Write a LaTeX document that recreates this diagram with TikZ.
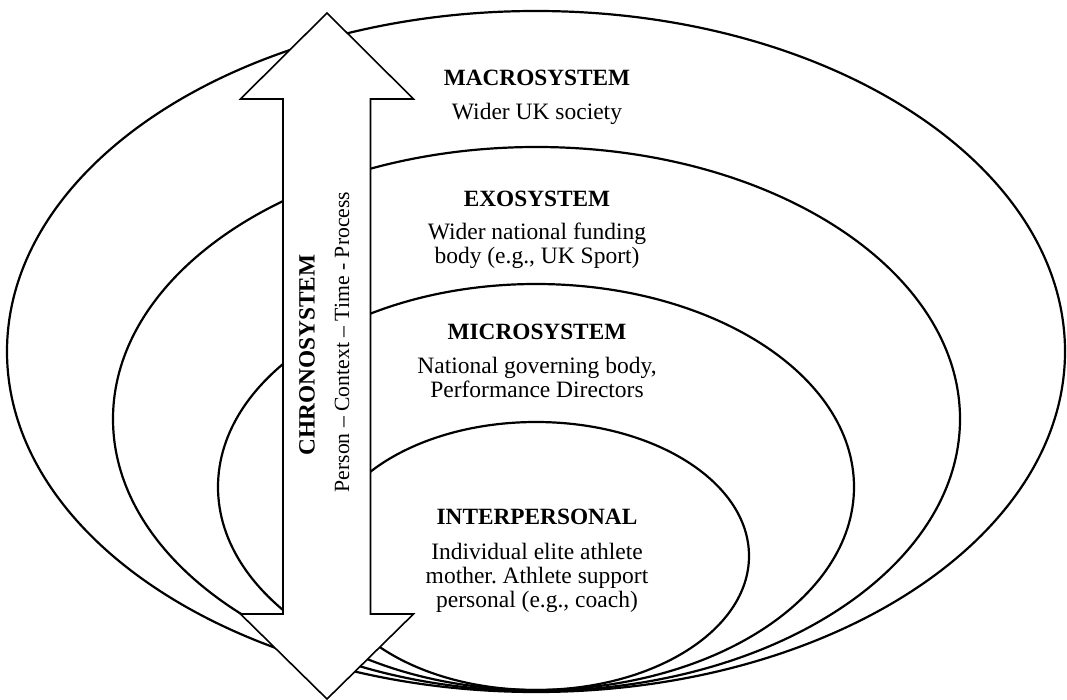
\documentclass[tikz,border=0pt]{standalone}
\usepackage{fontspec}
\setmainfont{Liberation Serif}
\usetikzlibrary{shapes.geometric}
\frenchspacing
\begin{document}
\begin{tikzpicture}[x=1pt,y=-1pt,
  ring/.style={ellipse,draw,line width=2.2pt,inner sep=0pt},
  title/.style={font=\fontsize{23.3}{24}\selectfont\bfseries,anchor=base,inner sep=0pt},
  body/.style={font=\fontsize{23.5}{24}\selectfont,align=center,anchor=base,inner sep=0pt},
  chrono/.style={draw,line width=1.6pt,fill=white,line join=miter}]
\useasboundingbox (0,0) rectangle (1067,700);
% nested ellipses
\node[ring,minimum width=1058pt,minimum height=681pt] (macro) at (536,351.5) {};
\node[ring,minimum width=847pt,minimum height=544pt] (exo) at (536.5,419) {};
\node[ring,minimum width=636pt,minimum height=406pt] (micro) at (536,487) {};
\node[ring,minimum width=426pt,minimum height=268pt] (inter) at (536,556) {};
% double arrow
\draw[chrono] (327,13) -- (413.5,99) -- (370.5,99) -- (370.5,614) -- (413.5,614)
  -- (327,699) -- (240.5,614) -- (283,614) -- (283,99) -- (240.5,99) -- cycle;
\node[font=\fontsize{23.3}{24}\selectfont\bfseries,rotate=90,inner sep=0pt] (chronot) at (307,355) {CHRONOSYSTEM};
\node[font=\fontsize{21.7}{24}\selectfont,rotate=90,inner sep=0pt] (chronob) at (342,342) {Person -- Context -- Time - Process};
% texts
\node[title] (macrot) at (537,85.5) {MACROSYSTEM};
\node[body] (macrob) at (537,120) {Wider UK society};
\node[title] (exot) at (537,206.5) {EXOSYSTEM};
\node[body] (exob) at (537,264) {Wider national funding\\body (e.g., UK Sport)};
\node[title] (microt) at (537,339.5) {MICROSYSTEM};
\node[body] (microb) at (537,397) {National governing body,\\Performance Directors};
\node[title] (intert) at (537,524.5) {INTERPERSONAL};
\node[body] (interb) at (537,607) {Individual elite athlete\\mother. Athlete support\\personal (e.g., coach)};
\end{tikzpicture}
\end{document}
